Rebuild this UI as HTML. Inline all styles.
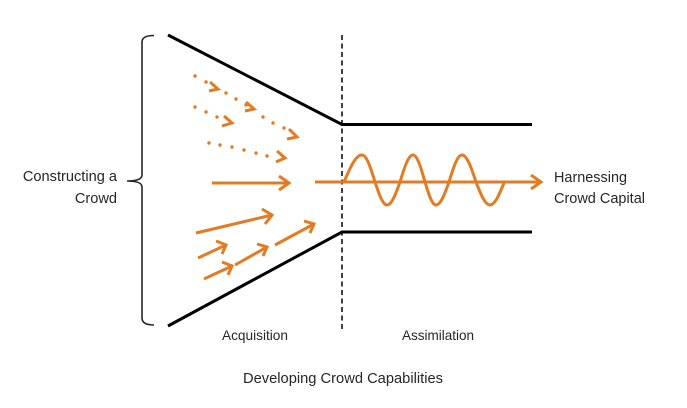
<!DOCTYPE html>
<html>
<head>
<meta charset="utf-8">
<style>
  html, body { margin: 0; padding: 0; background: #ffffff; }
  body { width: 687px; height: 408px; overflow: hidden; }
  svg { display: block; }
  text { font-family: "Liberation Sans", Arial, sans-serif; fill: #262626; }
</style>
</head>
<body>
<svg width="687" height="408" viewBox="0 0 687 408" xmlns="http://www.w3.org/2000/svg">
  <rect x="0" y="0" width="687" height="408" fill="#ffffff"/>

  <!-- Curly brace -->
  <path d="M154,35.5 Q142,35.5 142,42 L142,175 Q142,181 127,181 Q142,181 142,187 L142,318 Q142,325 154,325"
        fill="none" stroke="#262626" stroke-width="1.6"/>

  <!-- Funnel lines -->
  <polyline points="168,35 342,124.5 532,124.5" fill="none" stroke="#000" stroke-width="3"/>
  <polyline points="168,326 342,232 532,232" fill="none" stroke="#000" stroke-width="3"/>

  <!-- Dashed divider -->
  <line x1="342" y1="35" x2="342" y2="331" stroke="#000" stroke-width="1.5" stroke-dasharray="5,3.5"/>

  <g fill="#E47B22" stroke="none">
    <!-- top dotted line dots -->
    <circle cx="195" cy="76" r="1.7"/>
    <circle cx="206" cy="82" r="1.7"/>
    <circle cx="226" cy="93" r="1.7"/>
    <circle cx="236" cy="99" r="1.7"/>
    <circle cx="246" cy="105" r="1.7"/>
    <circle cx="263" cy="117" r="1.7"/>
    <circle cx="273" cy="123" r="1.7"/>
    <circle cx="284" cy="128" r="1.7"/>
    <!-- middle dotted -->
    <circle cx="195" cy="107" r="1.7"/>
    <circle cx="206" cy="112" r="1.7"/>
    <circle cx="217" cy="117" r="1.7"/>
    <!-- bottom dotted -->
    <circle cx="209" cy="143" r="1.7"/>
    <circle cx="220" cy="145" r="1.7"/>
    <circle cx="232" cy="147" r="1.7"/>
    <circle cx="244" cy="150" r="1.7"/>
    <circle cx="256" cy="153" r="1.7"/>
    <circle cx="267" cy="156" r="1.7"/>
  </g>

  <g fill="none" stroke="#E47B22" stroke-width="3" stroke-linejoin="miter" stroke-linecap="butt">
    <!-- dotted arrow heads (small chevrons) -->
    <polyline points="210,82 218,89 209,91"/>
    <polyline points="246,102 254,109 245,111"/>
    <polyline points="289,129 297,137 287,139"/>
    <polyline points="224,116 232,123 222,126"/>
    <polyline points="277,151 285,158 276,162"/>

    <!-- solid arrows -->
    <line x1="212" y1="183" x2="289" y2="183"/>
    <polyline points="279,176 289,183 279,190"/>

    <line x1="196" y1="233" x2="272" y2="215"/>
    <polyline points="262,209 272,215 265,224"/>

    <line x1="198" y1="258" x2="226" y2="245"/>
    <polyline points="216,241 226,245 222,254"/>

    <line x1="204" y1="279" x2="232" y2="266"/>
    <polyline points="222,262 232,266 228,275"/>

    <line x1="235" y1="265" x2="267" y2="247"/>
    <polyline points="257,244 267,247 263,256"/>

    <line x1="275" y1="245" x2="314" y2="224"/>
    <polyline points="304,221 314,224 310,233"/>

    <!-- axis arrow -->
    <line x1="315" y1="182" x2="541" y2="182"/>
    <polyline points="531,175 541,182 531,189"/>

    <!-- sine wave -->
    <path d="M344,182
             C349.9,168.2 355.5,155 362,155
             C366.7,155 370.8,168.2 375,182
             C378.9,193.8 382.7,205 387,205
             C391.7,205 395.8,193.8 400,182
             C404.2,168.2 408.3,155 413,155
             C417.3,155 421.1,168.2 425,182
             C428.6,193.8 432,205 436,205
             C440.7,205 444.8,193.8 449,182
             C453.2,168.2 457.3,155 462,155
             C467.1,155 471.4,168.2 476,182
             C480.6,193.8 484.9,205 490,205
             C495.1,205 499.4,194 504,183"/>
  </g>

  <!-- Labels -->
  <text x="117" y="181" font-size="14.6" text-anchor="end">Constructing a</text>
  <text x="117" y="203" font-size="14.6" text-anchor="end">Crowd</text>

  <text x="554" y="182" font-size="14.5" textLength="73" lengthAdjust="spacingAndGlyphs">Harnessing</text>
  <text x="554" y="203" font-size="14.5" textLength="91" lengthAdjust="spacingAndGlyphs">Crowd Capital</text>

  <text x="222" y="340" font-size="13.6" textLength="66" lengthAdjust="spacingAndGlyphs">Acquisition</text>
  <text x="402" y="340" font-size="13.6" textLength="72" lengthAdjust="spacingAndGlyphs">Assimilation</text>

  <text x="243" y="383" font-size="14.5" textLength="200" lengthAdjust="spacingAndGlyphs">Developing Crowd Capabilities</text>
</svg>
</body>
</html>
